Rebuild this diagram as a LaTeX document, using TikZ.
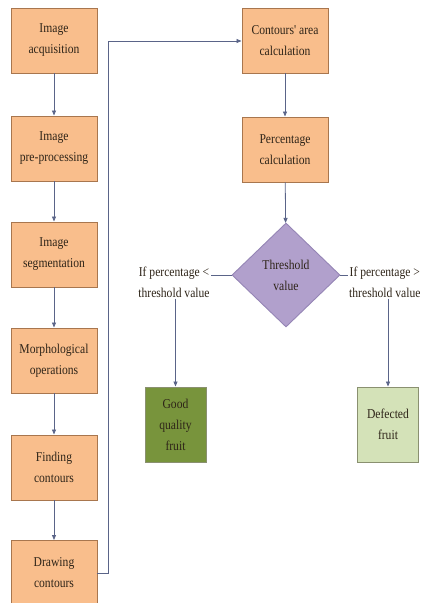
\documentclass[tikz,border=0pt]{standalone}
\usepackage{fontspec}
\setmainfont{Liberation Serif}
\newfontfamily\tms[FakeStretch=0.86]{Liberation Serif}
\usetikzlibrary{shapes.geometric,arrows.meta}
\definecolor{orfill}{HTML}{F9BE8C}
\definecolor{ordraw}{HTML}{A8764E}
\definecolor{pufill}{HTML}{B1A0CC}
\definecolor{pudraw}{HTML}{9585B5}
\definecolor{dgfill}{HTML}{78943C}
\definecolor{lgfill}{HTML}{D4E2B8}
\definecolor{gdraw}{HTML}{8A9070}
\definecolor{arr}{HTML}{5A6488}
\definecolor{txt}{HTML}{2E2418}
\begin{document}
\begin{tikzpicture}[x=1pt,y=-1pt,
  font=\tms\fontsize{13.5}{21}\selectfont,
  obox/.style={draw=ordraw,fill=orfill,line width=0.9pt,minimum width=86pt,minimum height=65pt,inner sep=0pt,align=center,text=txt},
  gbox/.style={draw=gdraw,line width=0.9pt,minimum width=61pt,minimum height=75pt,inner sep=0pt,align=center,text=txt},
  dia/.style={diamond,draw=pudraw,fill=pufill,line width=0.9pt,minimum width=108pt,minimum height=104pt,inner sep=0pt,align=center,text=txt,aspect=1.04},
  lbl/.style={align=center,inner sep=1pt,text=txt},
  con/.style={draw=arr,line width=0.8pt},
  arw/.style={con,-{Triangle[length=5pt,width=4pt]}}]
\useasboundingbox (0,0) rectangle (425,603);
\node[obox] (n1) at (54,40.5) {Image\\acquisition};
\node[obox] (n2) at (54,148.5) {Image\\pre-processing};
\node[obox] (n3) at (54,254.5) {Image\\segmentation};
\node[obox] (n4) at (54,360.5) {Morphological\\operations};
\node[obox] (n5) at (54,467.5) {Finding\\contours};
\node[obox] (n6) at (54,573) {Drawing\\contours};
\node[obox] (r1) at (285,40.5) {Contours' area\\calculation};
\node[obox] (r2) at (285,149.5) {Percentage\\calculation};
\node[dia] (th) at (286,275) {Threshold\\value};
\node[lbl] (ll) at (174,282) {If percentage <\\threshold value};
\node[lbl,anchor=west] (rl) at (348,282) {If percentage >\\threshold value};
\node[gbox,fill=dgfill] (good) at (175.5,424.5) {Good\\quality\\fruit};
\node[gbox,fill=lgfill] (bad) at (388,424.5) {Defected\\fruit};
\coordinate (c1) at (108,573);
\coordinate (c2) at (108,41);
\draw[arw] (n1) -- (n2);
\draw[arw] (n2) -- (n3);
\draw[arw] (n3) -- (n4);
\draw[arw] (n4) -- (n5);
\draw[arw] (n5) -- (n6);
\draw[arw] (n6.east) -- (c1) -- (c2) -- (r1.west |- c2);
\draw[arw] (r1) -- (r2);
\draw[arw] (r2) -- (th);
\draw[con] (th.west) -- (th.west -| ll.east);
\draw[con] (th.east) -- (th.east -| rl.west);
\draw[arw] (good.north |- ll.south) -- (good.north);
\draw[arw] (bad.north |- rl.south) -- (bad.north);
\end{tikzpicture}
\end{document}
